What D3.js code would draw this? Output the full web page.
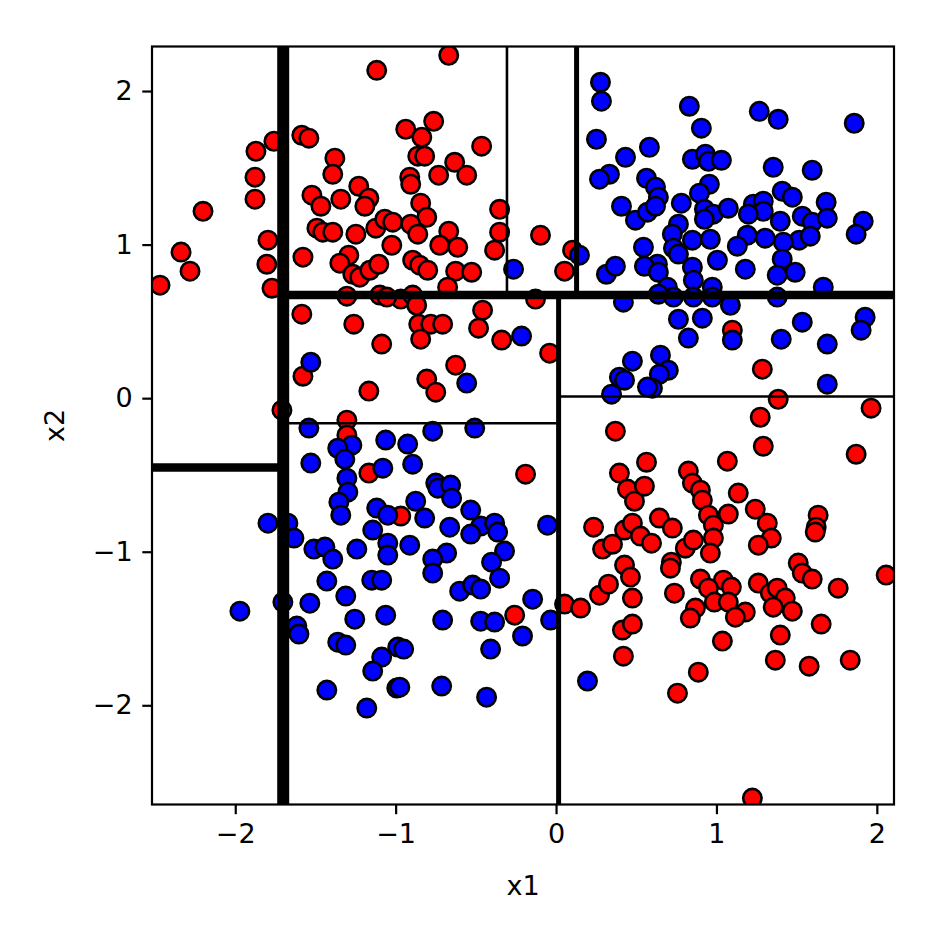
<!DOCTYPE html>
<html><head><meta charset="utf-8">
<script src="https://cdn.jsdelivr.net/npm/d3@7"></script>
<style>body{margin:0;background:#fff}svg{display:block}</style>
</head><body>
<script>
// ---- data ----
const xTicks = [-2, -1, 0, 1, 2];
const yTicks = [-2, -1, 0, 1, 2];
const xDomain = [-2.519, 2.107];
const yDomain = [-2.646, 2.290];

const redX1 = [-2.469,-2.338,-2.282,-2.201,-1.871,-1.877,-1.877,-1.796,-1.803,-1.771,-1.759,-1.709,
 -1.118,-0.669,-1.585,-1.541,-1.379,-1.392,-1.230,-1.522,-1.466,-1.342,-1.167,-1.192,-1.491,-1.454,-1.392,-1.248,-1.124,-1.068,-1.018,
 -0.937,-0.763,-0.837,-0.862,-0.819,-0.464,-0.632,-0.732,-0.557,-0.912,-0.906,-0.844,-0.806,-0.906,-0.862,-0.669,-0.352,-0.352,-0.097,
 -0.725,-0.613,-0.383,0.103,0.053,-0.894,-0.850,-0.800,-0.626,-0.526,-0.676,-0.968,-0.894,-0.869,-0.128,-0.458,-0.483,-0.856,-0.781,-0.707,
 -0.844,-0.339,-0.040,-0.626,-0.806,-0.750,-1.578,-1.292,-1.348,-1.267,-1.224,-1.161,-1.105,-1.024,-1.304,-1.099,-1.055,-1.585,-1.261,-1.087,
 -1.578,-1.167,-1.304,-1.304,-1.167,-0.968,-0.190,-0.258,
 0.370,0.395,0.445,0.489,0.551,0.564,0.234,0.290,0.352,0.427,0.476,0.526,0.595,0.427,0.464,0.476,0.053,0.153,0.271,0.327,0.414,0.476,0.420,
 1.292,1.871,1.068,0.825,0.850,0.900,0.912,1.136,0.644,0.725,0.950,0.981,1.074,1.242,1.317,1.342,1.261,1.634,1.622,1.616,
 0.806,0.856,0.981,0.962,0.719,0.713,1.510,1.535,1.597,1.759,2.058,0.738,0.900,1.043,1.093,0.950,0.987,1.074,1.180,1.118,
 1.261,1.336,1.379,1.429,1.473,1.354,0.869,0.837,1.653,1.398,1.037,1.367,1.578,1.834,0.887,0.757,1.224,
 1.099,1.286,1.385,1.273,1.964];
const redX2 = [0.736,0.951,0.827,1.217,1.608,1.439,1.296,1.029,0.872,0.716,1.673,-0.078,
 2.135,2.233,1.712,1.693,1.563,1.458,1.380,1.322,1.250,1.296,1.302,1.250,1.107,1.081,1.081,1.068,1.107,1.165,1.146,
 1.751,1.803,1.699,1.576,1.576,1.641,1.536,1.452,1.452,1.439,1.393,1.270,1.178,1.133,1.068,1.087,1.230,1.081,1.061,
 0.996,0.983,0.964,0.964,0.827,0.898,0.866,0.833,0.827,0.820,0.723,0.645,0.671,0.605,0.645,0.573,0.456,0.482,0.482,0.482,
 0.384,0.378,0.293,0.215,0.124,0.039,0.918,0.931,0.879,0.807,0.788,0.833,0.872,0.996,0.664,0.671,0.658,0.547,0.482,0.352,
 0.143,0.046,-0.143,-0.241,-0.488,-0.768,-0.495,-1.413,
 -0.215,-0.488,-0.592,-0.671,-0.573,-0.417,-0.840,-0.983,-0.951,-0.859,-0.814,-0.898,-0.944,-1.087,-1.165,-1.302,-1.341,-1.367,-1.283,-1.211,-1.510,-1.471,-1.680,
 -0.313,-0.365,-0.410,-0.475,-0.553,-0.599,-0.664,-0.618,-0.781,-0.846,-0.762,-0.827,-0.755,-0.723,-0.814,-0.911,-0.957,-0.762,-0.840,-0.872,
 -0.977,-0.924,-0.911,-1.009,-1.068,-1.107,-1.074,-1.139,-1.178,-1.237,-1.152,-1.270,-1.178,-1.185,-1.230,-1.237,-1.328,-1.328,-1.393,-1.426,
 -1.204,-1.270,-1.237,-1.302,-1.387,-1.361,-1.367,-1.432,-1.471,-1.543,-1.582,-1.706,-1.745,-1.706,-1.784,-1.921,-2.604,
 0.443,0.189,-0.007,-0.124,-0.065];

const blueX1 = [0.277,0.283,0.252,0.433,0.333,0.271,0.582,0.564,0.408,0.495,0.570,0.831,0.906,1.267,1.385,1.859,
 0.850,0.931,0.950,1.031,1.354,1.597,0.620,0.638,0.620,0.956,0.894,0.781,0.925,0.981,0.925,1.074,1.230,1.292,1.292,1.199,
 1.410,1.473,1.398,1.535,1.597,1.684,1.691,1.915,1.871,0.763,0.725,0.850,0.962,1.192,1.304,1.516,1.585,0.732,1.130,1.417,
 0.632,0.551,0.638,0.763,0.850,1.006,1.180,1.410,1.379,1.491,0.856,0.694,0.638,0.732,0.974,0.974,0.856,1.666,1.379,1.087,
 0.763,0.912,1.099,0.825,1.404,1.535,1.691,1.927,1.902,0.651,0.700,0.644,0.601,1.691,0.545,0.146,-0.265,0.314,0.370,0.420,
 -0.215,-0.557,0.476,0.395,0.427,0.346,0.570,
 -1.529,-1.541,-0.769,-0.507,-1.062,-1.273,-1.361,-1.317,-1.529,-1.080,-1.304,-1.298,-1.354,-1.342,-1.118,-1.049,-1.143,
 -1.796,-1.672,-1.634,-1.510,-1.441,-1.392,-1.242,-1.049,-1.049,-1.429,-1.149,-1.087,-1.311,-1.703,-1.535,-1.971,-1.255,-1.062,
 -1.616,-1.603,-1.361,-1.311,-1.087,-1.143,-0.987,-0.993,-1.429,-1.180,-0.925,-0.894,-0.750,-0.737,-0.657,-0.651,-0.875,-0.819,
 -0.532,-0.470,-0.383,-0.364,-0.532,-0.663,-0.053,-0.912,-0.682,-0.769,-0.769,-0.321,-0.402,-0.352,-0.601,-0.520,-0.470,-0.146,
 -0.707,-0.470,-0.383,-0.034,-0.209,-0.950,-0.408,-0.974,-0.713,-0.433,0.196];
const blueX2 = [2.057,1.934,1.686,1.569,1.458,1.426,1.634,1.432,1.250,1.159,1.211,1.901,1.758,1.868,1.816,1.790,
 1.556,1.589,1.543,1.549,1.504,1.484,1.374,1.309,1.250,1.393,1.335,1.270,1.230,1.198,1.165,1.237,1.263,1.283,1.217,1.198,
 1.348,1.309,1.152,1.185,1.146,1.276,1.172,1.152,1.068,1.133,1.068,1.029,1.035,1.061,1.042,1.029,1.055,0.977,0.990,1.016,
 0.872,0.859,0.820,0.938,0.853,0.898,0.840,0.905,0.801,0.820,0.768,0.723,0.677,0.658,0.723,0.658,0.658,0.723,0.658,0.605,
 0.514,0.521,0.378,0.391,0.384,0.495,0.352,0.527,0.443,0.280,0.182,0.156,0.065,0.091,0.983,0.931,0.840,0.807,0.859,0.625,
 0.404,0.098,0.241,0.137,0.117,0.026,0.072,
 0.234,-0.195,-0.215,-0.195,-0.273,-0.306,-0.326,-0.397,-0.423,-0.456,-0.521,-0.612,-0.677,-0.762,-0.716,-0.762,-0.859,
 -0.814,-0.814,-0.911,-0.983,-0.970,-1.048,-0.983,-0.944,-1.022,-1.191,-1.185,-1.185,-1.289,-1.328,-1.335,-1.387,-1.439,-1.413,
 -1.484,-1.536,-1.589,-1.608,-1.686,-1.777,-1.621,-1.888,-1.901,-2.018,-0.299,-0.430,-0.553,-0.586,-0.566,-0.651,-0.671,-0.781,
 -0.729,-0.833,-0.814,-0.872,-0.885,-0.840,-0.827,-0.957,-1.009,-1.048,-1.139,-0.996,-1.068,-1.172,-1.257,-1.217,-1.243,-1.309,
 -1.445,-1.452,-1.458,-1.445,-1.549,-1.634,-1.634,-1.882,-1.875,-1.947,-1.842];

// decision-tree split lines: feature, threshold, depth, range along other axis
const splitFeature   = ["x1", "x2", "x2", "x1", "x1", "x1", "x2", "x2"];
const splitThreshold = [-1.701, 0.671, -0.451, 0.128, 0.016, -0.306, -0.163, 0.011];
const splitDepth     = [0, 1, 1, 2, 2, 3, 3, 3];
const splitFrom      = [null, -1.701, null, 0.671, null, 0.671, -1.701, 0.016];
const splitTo        = [null, null, -1.701, null, 0.671, null, 0.016, null];

// ---- chart ----
const W = 942, H = 942;
const m = {left: 152, right: 894, top: 46.5, bottom: 804.5};
const svg = d3.select("body").append("svg").attr("width", W).attr("height", H);
const x = d3.scaleLinear().domain(xDomain).range([m.left, m.right]);
const y = d3.scaleLinear().domain(yDomain).range([m.bottom, m.top]);

svg.append("clipPath").attr("id", "clip").append("rect")
  .attr("x", m.left).attr("y", m.top).attr("width", m.right - m.left).attr("height", m.bottom - m.top);

const g = svg.append("g").attr("clip-path", "url(#clip)");
const pts = [];
redX1.forEach((v, i) => pts.push({x1: v, x2: redX2[i], c: "#ff0000"}));
blueX1.forEach((v, i) => pts.push({x1: v, x2: blueX2[i], c: "#0000ff"}));
g.selectAll("circle").data(pts).join("circle")
  .attr("cx", d => x(d.x1)).attr("cy", d => y(d.x2)).attr("r", 9.2)
  .attr("fill", d => d.c).attr("stroke", "#000").attr("stroke-width", 2.6);

const widthByDepth = [12, 8.5, 5, 2.6];
splitFeature.forEach((f, i) => {
  const t = splitThreshold[i];
  const w = widthByDepth[splitDepth[i]];
  if (f === "x1") {
    const a = splitFrom[i] === null ? yDomain[0] : splitFrom[i];
    const b = splitTo[i] === null ? yDomain[1] : splitTo[i];
    g.append("line").attr("x1", x(t)).attr("x2", x(t)).attr("y1", y(a)).attr("y2", y(b))
      .attr("stroke", "#000").attr("stroke-width", w);
  } else {
    const a = splitFrom[i] === null ? xDomain[0] : splitFrom[i];
    const b = splitTo[i] === null ? xDomain[1] : splitTo[i];
    g.append("line").attr("x1", x(a)).attr("x2", x(b)).attr("y1", y(t)).attr("y2", y(t))
      .attr("stroke", "#000").attr("stroke-width", w);
  }
});

const fmt = d => d < 0 ? "\u2212" + Math.abs(d) : String(d);
const font = "DejaVu Sans, sans-serif";
const xAxis = svg.append("g").attr("transform", `translate(0,${m.bottom})`)
  .call(d3.axisBottom(x).tickValues(xTicks).tickFormat(fmt).tickSize(9.7).tickPadding(9.7));
const yAxis = svg.append("g").attr("transform", `translate(${m.left},0)`)
  .call(d3.axisLeft(y).tickValues(yTicks).tickFormat(fmt).tickSize(9.7).tickPadding(9.7));
[xAxis, yAxis].forEach(a => {
  a.select(".domain").remove();
  a.selectAll(".tick line").attr("stroke", "#000").attr("stroke-width", 2.2);
  a.selectAll("text").attr("font-family", font).attr("font-size", 27).attr("fill", "#000");
});
svg.append("rect").attr("x", m.left).attr("y", m.top).attr("width", m.right - m.left)
  .attr("height", m.bottom - m.top).attr("fill", "none").attr("stroke", "#000").attr("stroke-width", 2.2);

svg.append("text").attr("x", (m.left + m.right) / 2).attr("y", 895).attr("text-anchor", "middle")
  .attr("font-family", font).attr("font-size", 27).text("x1");
svg.append("text").attr("transform", `translate(64,${(m.top + m.bottom) / 2}) rotate(-90)`)
  .attr("text-anchor", "middle").attr("font-family", font).attr("font-size", 27).text("x2");
</script>
</body></html>
